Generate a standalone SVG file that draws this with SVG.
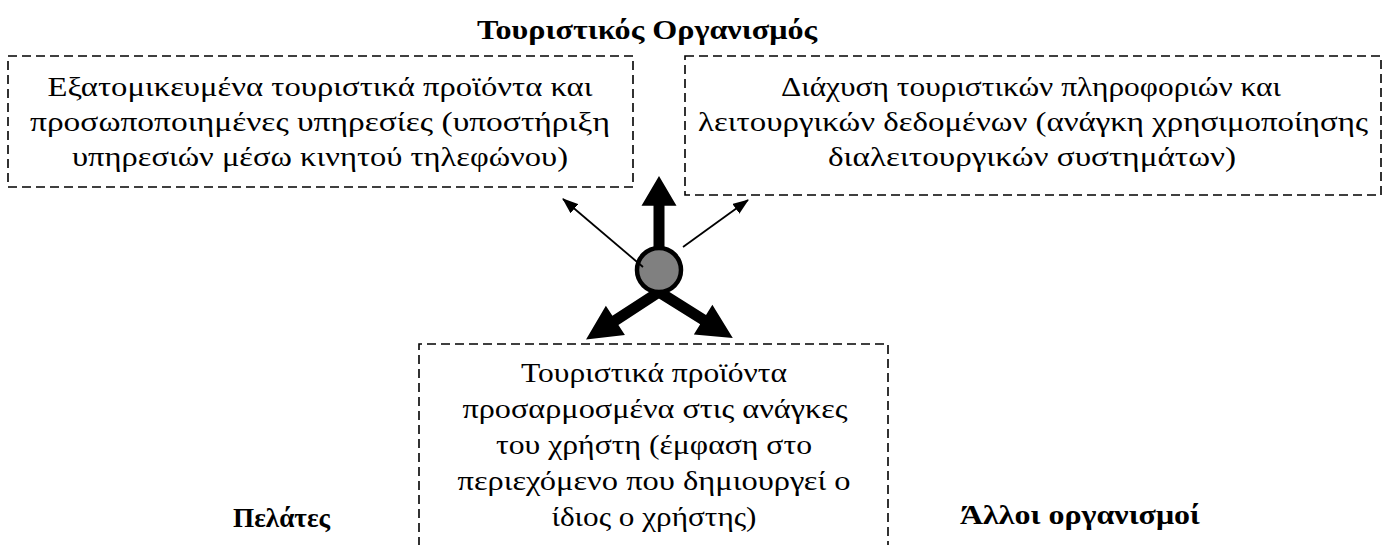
<svg xmlns="http://www.w3.org/2000/svg" width="1390" height="545" viewBox="0 0 1390 545">
<style>
.box{fill:none;stroke:#000;stroke-width:1.6;stroke-dasharray:9,5}
.t{font-family:"Liberation Serif","DejaVu Serif","Times New Roman",serif;font-size:27px;fill:#000;text-anchor:middle}
.b{font-weight:bold}
.thin{stroke:#000;stroke-width:1.8;fill:none}
</style>
<defs>
<marker id="ah" markerUnits="userSpaceOnUse" markerWidth="16" markerHeight="12" refX="15" refY="6" orient="auto">
<path d="M0,0 L16,6 L0,12 Z" fill="#000"/>
</marker>
<path id="thick" d="M0,-5.5 L52,-5.5 L52,-17.5 L87,0 L52,17.5 L52,5.5 L0,5.5 Z" fill="#000"/>
</defs>
<rect width="1390" height="545" fill="#fff"/>
<text class="t b" x="647" y="39" textLength="340" lengthAdjust="spacingAndGlyphs">Τουριστικός Οργανισμός</text>
<g id="node-personalized">
<rect class="box" x="8" y="56" width="625" height="131"/>
<text class="t" x="320" y="96" textLength="545" lengthAdjust="spacingAndGlyphs">Εξατομικευμένα τουριστικά προϊόντα και</text>
<text class="t" x="320" y="131" textLength="580" lengthAdjust="spacingAndGlyphs">προσωποποιημένες υπηρεσίες (υποστήριξη</text>
<text class="t" x="320" y="166" textLength="496" lengthAdjust="spacingAndGlyphs">υπηρεσιών μέσω κινητού τηλεφώνου)</text>
</g>
<g id="node-diffusion">
<rect class="box" x="685" y="56" width="696" height="139"/>
<text class="t" x="1031" y="96" textLength="500" lengthAdjust="spacingAndGlyphs">Διάχυση τουριστικών πληροφοριών και</text>
<text class="t" x="1033" y="131" textLength="670" lengthAdjust="spacingAndGlyphs">λειτουργικών δεδομένων (ανάγκη χρησιμοποίησης</text>
<text class="t" x="1032" y="166" textLength="408" lengthAdjust="spacingAndGlyphs">διαλειτουργικών συστημάτων)</text>
</g>
<g id="node-products">
<path class="box" d="M419,560 L419,344 L888,344 L888,560"/>
<text class="t" x="654" y="382" textLength="266" lengthAdjust="spacingAndGlyphs">Τουριστικά προϊόντα</text>
<text class="t" x="655" y="418" textLength="385" lengthAdjust="spacingAndGlyphs">προσαρμοσμένα στις ανάγκες</text>
<text class="t" x="654" y="454" textLength="316" lengthAdjust="spacingAndGlyphs">του χρήστη (έμφαση στο</text>
<text class="t" x="654" y="490" textLength="393" lengthAdjust="spacingAndGlyphs">περιεχόμενο που δημιουργεί ο</text>
<text class="t" x="654" y="526" textLength="205" lengthAdjust="spacingAndGlyphs">ίδιος ο χρήστης)</text>
</g>
<g id="label-customers"><text class="t b" x="281.5" y="527" textLength="97" lengthAdjust="spacingAndGlyphs">Πελάτες</text></g>
<g id="label-others"><text class="t b" x="1080" y="524" textLength="240" lengthAdjust="spacingAndGlyphs">Άλλοι οργανισμοί</text></g>
<g id="connectors">
<use href="#thick" transform="translate(659,250) rotate(-90) scale(0.85,1)"/>
<use href="#thick" transform="translate(659,292) rotate(147)"/>
<use href="#thick" transform="translate(659,292) rotate(32)"/>
<g id="hub"><circle cx="659" cy="270" r="22" fill="#808080" stroke="#000" stroke-width="4.5"/></g>
<line class="thin" x1="643" y1="267" x2="563" y2="199" marker-end="url(#ah)"/>
<line class="thin" x1="683" y1="247" x2="748" y2="200" marker-end="url(#ah)"/>
</g>
</svg>
